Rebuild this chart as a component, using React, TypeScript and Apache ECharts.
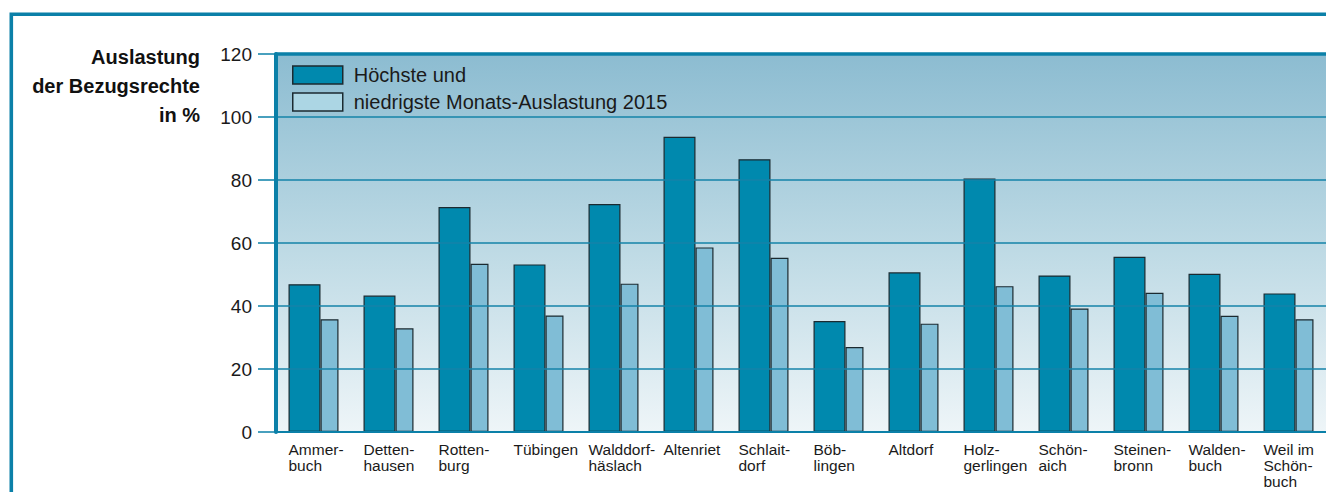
import React, { useEffect, useRef } from "react";
import * as echarts from "echarts";

const categories = [
  "Ammerbuch", "Dettenhausen", "Rottenburg", "Tübingen", "Walddorfhäslach",
  "Altenriet", "Schlaitdorf", "Böblingen", "Altdorf", "Holzgerlingen",
  "Schönaich", "Steinenbronn", "Waldenbuch", "Weil im Schönbuch",
];
const xLabels = [
  "Ammer-\nbuch", "Detten-\nhausen", "Rotten-\nburg", "Tübingen", "Walddorf-\nhäslach",
  "Altenriet", "Schlait-\ndorf", "Böb-\nlingen", "Altdorf", "Holz-\ngerlingen",
  "Schön-\naich", "Steinen-\nbronn", "Walden-\nbuch", "Weil im\nSchön-\nbuch",
];
const highest = [46.9, 43.3, 71.4, 53.2, 72.4, 93.7, 86.6, 35.2, 50.7, 80.5, 49.7, 55.6, 50.2, 44.0];
const lowest = [35.8, 32.9, 53.4, 37.0, 47.1, 58.6, 55.3, 27.0, 34.4, 46.3, 39.2, 44.2, 36.9, 35.8];
const yTicks = [0, 20, 40, 60, 80, 100, 120];
const seriesNames = ["Höchste und", "niedrigste Monats-Auslastung 2015"];
const yTitle = "Auslastung\nder Bezugsrechte\nin %";

const TEAL = "#0b80a8";
const DARK = "#0089ae";
const LIGHT = "#80bdd6";
const LEGEND_LIGHT = "#acd6e4";
const FONT = "'Liberation Sans', Arial, sans-serif";

export default function App() {
  const ref = useRef<HTMLDivElement>(null);
  useEffect(() => {
    if (!ref.current) return;
    const chart = echarts.init(ref.current, null, { renderer: "svg" });
    chart.setOption({
      animation: false,
      backgroundColor: "#ffffff",
      textStyle: { fontFamily: FONT },
      graphic: [
        {
          type: "rect",
          shape: { x: 11.3, y: 14.2, width: 1600, height: 800 },
          style: { fill: "none", stroke: TEAL, lineWidth: 3.6 },
          z: 100,
        },
        {
          type: "text",
          x: 200,
          y: 43,
          style: {
            text: yTitle,
            align: "right",
            verticalAlign: "top",
            fontSize: 20,
            fontWeight: "bold",
            lineHeight: 28.7,
            fontFamily: FONT,
            fill: "#111",
          },
        },
      ],
      legend: {
        orient: "vertical",
        left: 287,
        top: 60,
        itemWidth: 50,
        itemHeight: 18,
        itemGap: 7,
        icon: "rect",
        selectedMode: false,
        textStyle: { fontSize: 20, color: "#1a1a1a", fontFamily: FONT, padding: [0, 0, 0, 6] },
        data: [
          { name: seriesNames[0], itemStyle: { color: DARK, borderColor: "#1b2a30", borderWidth: 1.5 } },
          { name: seriesNames[1], itemStyle: { color: LEGEND_LIGHT, borderColor: "#1b2a30", borderWidth: 1.5 } },
        ],
      },
      grid: {
        left: 276,
        top: 54,
        width: 1055,
        height: 378,
        show: true,
        borderWidth: 0,
        backgroundColor: new echarts.graphic.LinearGradient(0, 0, 0, 1, [
          { offset: 0, color: "#8cbcd1" },
          { offset: 0.5, color: "#bcd9e4" },
          { offset: 1, color: "#eef5f8" },
        ]),
      },
      xAxis: [
        {
          type: "category",
          data: categories,
          boundaryGap: true,
          axisLine: { show: true, lineStyle: { color: TEAL, width: 2 } },
          axisTick: { show: false },
          axisLabel: { show: false },
          z: 5,
        },
        {
          type: "category",
          data: categories,
          position: "top",
          axisLine: { show: true, lineStyle: { color: TEAL, width: 3.5 } },
          axisTick: { show: false },
          axisLabel: { show: false },
          z: 5,
        },
      ],
      yAxis: {
        type: "value",
        min: yTicks[0],
        max: yTicks[yTicks.length - 1],
        interval: 20,
        axisLine: { show: true, lineStyle: { color: TEAL, width: 4 } },
        axisTick: { show: true, inside: false, length: 18, lineStyle: { color: TEAL, width: 1.5 } },
        axisLabel: { fontSize: 19, color: "#1a1a1a", margin: 24, fontFamily: FONT },
        splitLine: { show: true, lineStyle: { color: "#1583a8", width: 1.6 } },
        z: 5,
      },
      series: [
        {
          name: seriesNames[0],
          type: "bar",
          data: highest,
          barWidth: 32,
          barGap: "0%",
          itemStyle: { color: DARK, borderColor: "#1b2a30", borderWidth: 1.2 },
          z: 3,
        },
        {
          name: seriesNames[1],
          type: "bar",
          data: lowest,
          barWidth: 18,
          barGap: "0%",
          itemStyle: { color: LIGHT, borderColor: "#1b2a30", borderWidth: 1.2 },
          z: 3,
        },
        {
          name: "labels",
          type: "custom",
          silent: true,
          clip: false,
          data: categories.map((_, i) => [i, 0]),
          renderItem: (params: any, api: any) => {
            const p = api.coord([api.value(0), 0]);
            return {
              type: "text",
              x: p[0] - 25,
              y: p[1] + 9,
              style: {
                text: xLabels[params.dataIndex],
                fontSize: 15.5,
                lineHeight: 16,
                fontFamily: FONT,
                fill: "#1a1a1a",
                align: "left",
                verticalAlign: "top",
              },
            };
          },
        },
      ],
    });
    return () => chart.dispose();
  }, []);
  return (
    <div style={{ position: "absolute", left: 0, top: 0, width: 1326, height: 492, overflow: "hidden" }}>
      <div ref={ref} style={{ width: 1326, height: 492 }} />
    </div>
  );
}
